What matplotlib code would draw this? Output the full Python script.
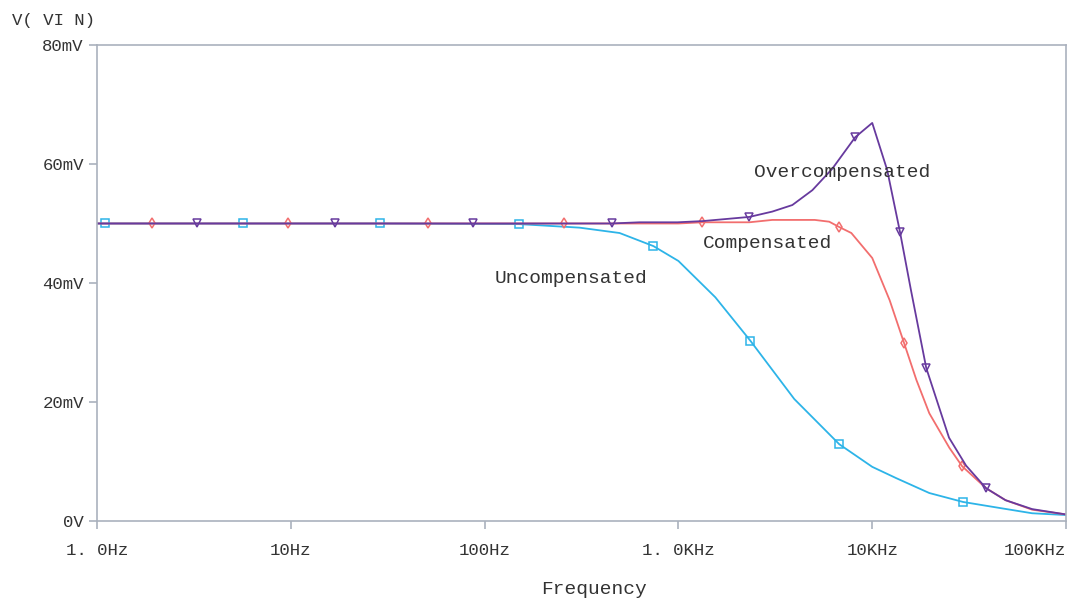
"""
    Purpose: Frequency response of the three compensation cases (PSpice-style plot)
"""

import matplotlib.pyplot as plt

# frequency (Hz) and V(VIN) (mV)
unc_freq = [1, 1.1, 5.7, 29, 150, 309, 497, 743, 1000, 1550, 2350, 3960, 6760,
            10000, 13300, 19700, 29400, 45200, 66800, 100000]
unc_mv = [50, 50, 50, 50, 49.9, 49.3, 48.4, 46.2, 43.7, 37.6, 30.3, 20.5, 12.9,
          9.1, 7.2, 4.7, 3.2, 2.2, 1.3, 1.0]
unc_marks = [1, 2, 3, 4, 7, 10, 12, 16]

comp_freq = [1, 1.92, 9.7, 51, 258, 1000, 1330, 2320, 3050, 5050, 6000, 6760,
             7800, 10000, 12300, 14600, 16900, 19700, 25000, 29100, 38700,
             48700, 66800, 100000]
comp_mv = [50, 50, 50, 50, 50, 50, 50.2, 50.2, 50.6, 50.6, 50.3, 49.4, 48.4,
           44.2, 37.1, 29.9, 23.7, 18.1, 12.3, 9.2, 5.5, 3.5, 1.9, 1.1]
comp_marks = [1, 2, 3, 4, 6, 11, 15, 19]

over_freq = [1, 3.3, 16.9, 86.7, 452, 629, 988, 1330, 2320, 3050, 3870, 4910,
             6220, 8170, 10000, 11940, 13900, 15840, 19000, 24900, 30500,
             38700, 48700, 66800, 100000]
over_mv = [50, 50, 50, 50, 50, 50.2, 50.2, 50.4, 51.1, 52.0, 53.1, 55.6, 59.2,
           64.5, 66.9, 59.0, 48.6, 38.8, 25.7, 14.0, 9.3, 5.5, 3.5, 2.0, 1.1]
over_marks = [1, 2, 3, 4, 8, 13, 16, 18, 21]

x_ticks = [1, 10, 100, 1000, 10000, 100000]
x_labels = ["1. 0Hz", "10Hz", "100Hz", "1. 0KHz", "10KHz", "100KHz"]
y_ticks = [0, 20, 40, 60, 80]
y_labels = ["0V", "20mV", "40mV", "60mV", "80mV"]

FONT = "Liberation Mono"
AXIS_GRAY = "#aab1bd"
TXT = "#333333"

fig = plt.figure(figsize=(10.74, 6.03), dpi=100)
ax = fig.add_axes([0.0903, 0.136, 0.9023, 0.7894])

ax.plot(unc_freq, unc_mv, color="#2db4e8", lw=1.3, marker="s", ms=6,
        mfc="none", mew=1.1, markevery=unc_marks)
ax.plot(comp_freq, comp_mv, color="#f26e6e", lw=1.3, marker="d", ms=5,
        mfc="none", mew=1.1, markevery=comp_marks)
ax.plot(over_freq, over_mv, color="#673a9e", lw=1.3, marker="v", ms=6,
        mfc="none", mew=1.1, markevery=over_marks)

ax.set_xscale("log")
ax.set_xlim(1, 100000)
ax.set_ylim(0, 80)
ax.set_xticks(x_ticks)
ax.set_xticklabels(x_labels)
ax.xaxis.set_minor_locator(plt.NullLocator())
ax.set_yticks(y_ticks)
ax.set_yticklabels(y_labels)

for sp in ax.spines.values():
    sp.set_color(AXIS_GRAY)
    sp.set_linewidth(1.2)
ax.tick_params(colors=AXIS_GRAY, length=6, width=1.2, labelcolor=TXT,
               labelsize=12.5)
ax.tick_params(axis="x", pad=10)
for lbl in ax.get_xticklabels() + ax.get_yticklabels():
    lbl.set_family(FONT)
# the last frequency label sits flush with the right edge
ax.get_xticklabels()[-1].set_horizontalalignment("right")

ax.text(112.7, 40.8, "Uncompensated", family=FONT, fontsize=14, color=TXT,
        va="center")
ax.text(1330, 46.7, "Compensated", family=FONT, fontsize=14, color=TXT,
        va="center")
ax.text(2465, 58.5, "Overcompensated", family=FONT, fontsize=14, color=TXT,
        va="center")

fig.text(594 / 1074, 1 - 589 / 603, "Frequency", family=FONT, fontsize=14,
         color=TXT, ha="center", va="center")
fig.text(12 / 1074, 1 - 20 / 603, "V( VI N)", family=FONT, fontsize=12.5,
         color=TXT, ha="left", va="center")

plt.savefig("out.png")
